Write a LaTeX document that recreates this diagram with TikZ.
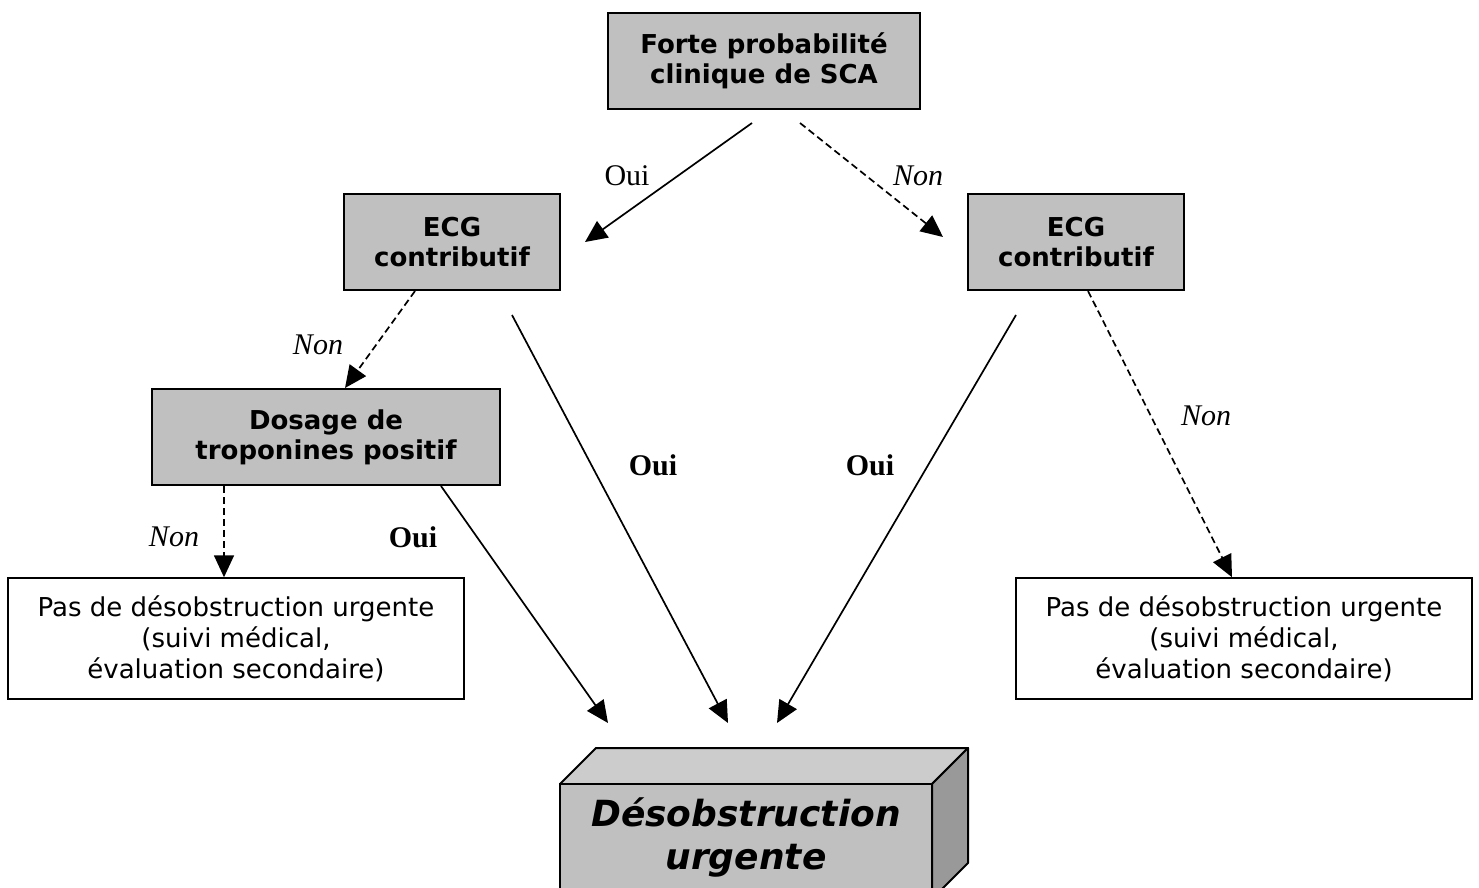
\documentclass[tikz,border=0pt]{standalone}
\usepackage{fontspec}
\setmainfont{DejaVu Sans}
\newfontfamily\lblfont{Liberation Serif}
\usetikzlibrary{arrows.meta}
\definecolor{boxgray}{HTML}{C0C0C0}
\definecolor{topgray}{HTML}{CCCCCC}
\definecolor{sidegray}{HTML}{999999}
\begin{document}
\begin{tikzpicture}[x=1pt,y=-1pt,
  graybox/.style={draw, line width=2pt, fill=boxgray, inner sep=0pt, align=center,
    font=\fontsize{26}{30}\selectfont\bfseries},
  whitebox/.style={draw, line width=1.5pt, fill=white, inner sep=0pt, align=center,
    font=\fontsize{26}{31}\selectfont},
  lbl/.style={inner sep=0pt, font=\lblfont\fontsize{30}{30}\selectfont},
  lbli/.style={lbl, font=\lblfont\fontsize{30}{30}\selectfont\itshape},
  lblb/.style={lbl, font=\lblfont\fontsize{30}{30}\selectfont\bfseries},
  arr/.style={line width=1.7pt, -{Triangle[length=22pt,width=20pt]}},
  dasharr/.style={arr, dash pattern=on 7pt off 4pt}]
\useasboundingbox (0,0) rectangle (1479,887);

% boxes
\node[graybox, minimum width=312pt, minimum height=96pt] (top) at (764,61) {Forte probabilité\\clinique de SCA};
\node[graybox, minimum width=216pt, minimum height=96pt] (ecgL) at (452,242) {ECG\\contributif};
\node[graybox, minimum width=216pt, minimum height=96pt] (ecgR) at (1076,242) {ECG\\contributif};
\node[graybox, minimum width=348pt, minimum height=96pt] (dos) at (326,437) {Dosage de\\troponines positif};
\node[whitebox, minimum width=456pt, minimum height=121pt] (whL) at (236,638.5) {Pas de désobstruction urgente\\(suivi médical,\\évaluation secondaire)};
\node[whitebox, minimum width=456pt, minimum height=121pt] (whR) at (1244,638.5) {Pas de désobstruction urgente\\(suivi médical,\\évaluation secondaire)};

% 3D box
\filldraw[fill=topgray, line width=2pt, line join=round] (560,784) -- (596,748) -- (968,748) -- (932,784) -- cycle;
\filldraw[fill=sidegray, line width=2pt, line join=round] (932,784) -- (968,748) -- (968,863) -- (932,899) -- cycle;
\node[draw, line width=2pt, fill=boxgray, minimum width=372pt, minimum height=115pt, inner sep=0pt] (des) at (746,841.5) {};
\node[inner sep=0pt, align=center, font=\fontsize{36}{43}\selectfont\bfseries\itshape] (destext) at (746,837.5) {Désobstruction\\urgente};

% free ends
\coordinate (s1) at (752,123); \coordinate (e1) at (585,242);
\coordinate (s2) at (800,123); \coordinate (e2) at (943,237);
\coordinate (e3) at (608,723);
\coordinate (s4) at (512,315); \coordinate (e4) at (728,723);
\coordinate (s5) at (1016,315); \coordinate (e5) at (777,723);

% connectors
\draw[arr] (s1) -- (e1);
\draw[dasharr] (s2) -- (e2);
\draw[dasharr] ([xshift=-37pt]ecgL.south) -- ([xshift=19pt]dos.north);
\draw[dasharr] ([xshift=-102pt]dos.south) -- ([xshift=-12pt]whL.north);
\draw[arr] ([xshift=115pt]dos.south) -- (e3);
\draw[arr] (s4) -- (e4);
\draw[arr] (s5) -- (e5);
\draw[dasharr] ([xshift=12pt]ecgR.south) -- ([xshift=-12pt]whR.north);

% labels
\node[lbl] (l1) at (627,176) {Oui};
\node[lbli] (l2) at (918,176) {Non};
\node[lbli] (l3) at (318,345) {Non};
\node[lbli] (l4) at (174,537) {Non};
\node[lblb] (l5) at (413,537) {Oui};
\node[lblb] (l6) at (653,465) {Oui};
\node[lblb] (l7) at (870,465) {Oui};
\node[lbli] (l8) at (1206,416) {Non};
\end{tikzpicture}
\end{document}
